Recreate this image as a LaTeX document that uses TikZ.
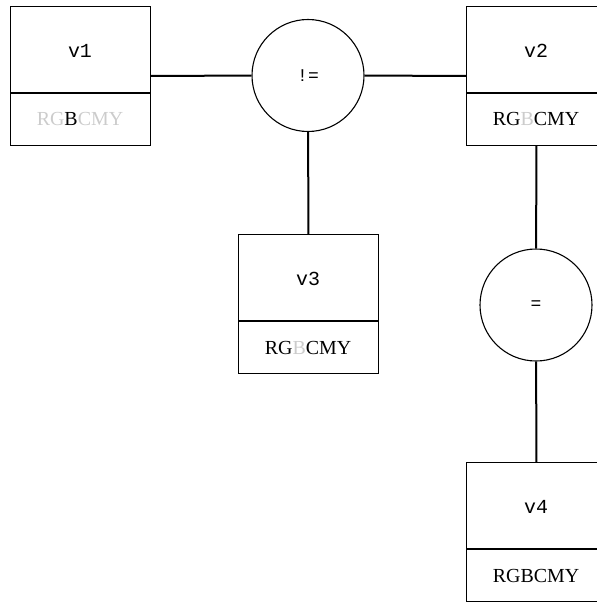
\documentclass[tikz,border=0pt]{standalone}
\usepackage{fontspec}
\setmainfont{Liberation Serif}
\setmonofont{Liberation Mono}
\definecolor{lg}{HTML}{CCCCCC}
\begin{document}
\begin{tikzpicture}[x=1bp,y=-1bp,
  box/.style={draw, line width=1.1bp, minimum width=140bp, minimum height=139bp, inner sep=0pt, anchor=north west},
  op/.style={draw, line width=1.1bp, circle, minimum size=112bp, inner sep=0pt, font=\fontsize{18}{20}\selectfont\ttfamily},
  vname/.style={font=\fontsize{20}{22}\selectfont\ttfamily, inner sep=0pt},
  cols/.style={font=\fontsize{20}{22}\selectfont, inner sep=0pt},
  edge/.style={line width=2bp},
  sep/.style={line width=1.1bp}]
\useasboundingbox (0,0) rectangle (597,602);
\clip (0,0) rectangle (597,602);
% boxes
\node[box] (v1) at (10,6) {};
\node[box] (v2) at (466,6) {};
\node[box] (v3) at (238,234) {};
\node[box] (v4) at (466,462) {};
% operators
\node[op] (c1) at (308,75.5) {!=};
\node[op] (c2) at (536,305) {=};
% split lines
\coordinate (s1) at (0,93);
\coordinate (s2) at (0,93);
\coordinate (s3) at (0,321);
\coordinate (s4) at (0,549);
\draw[sep] (v1.west |- s1) -- (v1.east |- s1);
\draw[sep] (v2.west |- s2) -- (v2.east |- s2);
\draw[sep] (v3.west |- s3) -- (v3.east |- s3);
\draw[sep] (v4.west |- s4) -- (v4.east |- s4);
% names
\node[vname] (n1) at (80,51) {v1};
\node[vname] (n2) at (536,51) {v2};
\node[vname] (n3) at (308,279) {v3};
\node[vname] (n4) at (536,507) {v4};
% colour labels
\node[cols, anchor=base] (k1) at (80,126) {{\color{lg}RG}B{\color{lg}CMY}};
\node[cols, anchor=base] (k2) at (536,126) {RG{\color{lg}B}CMY};
\node[cols, anchor=base] (k3) at (308,354) {RG{\color{lg}B}CMY};
\node[cols, anchor=base] (k4) at (536,582) {RGBCMY};
% edges
\draw[edge] (v1) -- (c1);
\draw[edge] (c1) -- (v2);
\draw[edge] (c1) -- (v3);
\draw[edge] (v2) -- (c2);
\draw[edge] (c2) -- (v4);
\end{tikzpicture}
\end{document}
